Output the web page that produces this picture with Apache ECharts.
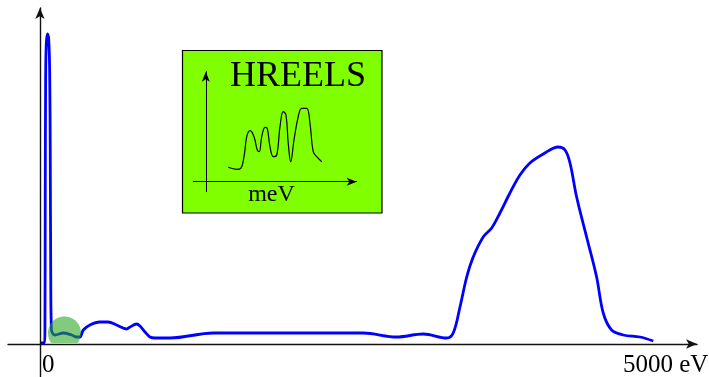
<!DOCTYPE html>
<html>
<head>
<meta charset="utf-8">
<script src="https://cdn.jsdelivr.net/npm/echarts@6/dist/echarts.min.js"></script>
<style>html,body{margin:0;padding:0;background:#fff}#c{width:709px;height:377px}</style>
</head>
<body>
<div id="c"></div>
<script>
// Main spectrum: electron energy (eV) vs intensity (a.u.)
var spectrumEnergy = [9, 39, 43, 45.6, 49, 54, 64.6, 75.7, 83.5, 88.6, 93, 99, 112, 129, 200, 273, 316, 344, 373, 430, 516, 588, 660, 746, 775, 832, 861, 904, 947, 990, 1119, 1492, 2783, 3070, 3299, 3500, 3557, 3615, 3673, 3729, 3815, 3888, 3959, 4045, 4131, 4217, 4332, 4461, 4519, 4562, 4619, 4705, 4791, 4848, 4920, 5020, 5164, 5279];
var spectrumIntensity = [1, 1, 14, 144, 264, 299, 310, 304, 274, 194, 64, 14, 10, 9, 11, 9, 7, 7, 14, 19, 22, 22, 19, 15, 17, 20, 18, 12, 7, 6, 6, 11, 11, 7, 10, 6, 11, 37, 67, 87, 107, 116, 131, 151, 169, 181, 190, 197, 194, 181, 147, 107, 67, 31, 14, 9, 7, 3];
// Highlighted low-loss region (HREELS window)
var highlightCenter = [211, 11];
// Inset HREELS spectrum: energy loss (meV) vs intensity (a.u.)
var insetEnergy = [90, 124, 140, 153, 164, 177, 193, 206, 214, 224, 237, 246, 257, 270, 284, 297, 310, 321, 330, 340, 353, 370, 384, 404, 417, 430, 444, 464];
var insetIntensity = [14.4, 12.4, 13.4, 25, 45, 51, 45, 31.7, 30, 45, 54.4, 53.4, 35, 25, 26.7, 55, 70, 66.7, 38.4, 20, 41.7, 65, 73.4, 73.4, 58.4, 30, 25, 20];
var tickValues = [0, 5000];
var tickLabels = ['0', '5000 eV'];
var insetTitle = 'HREELS';
var insetAxisName = 'meV';

var FONT = '"Liberation Serif", "Times New Roman", serif';
var chart = echarts.init(document.getElementById('c'), null, {renderer: 'canvas'});

function zip(a, b) { return a.map(function (v, i) { return [v, b[i]]; }); }

var option = {
  animation: false,
  backgroundColor: '#fff',
  title: {
    text: insetTitle, left: 230, top: 59, padding: 0, z: 6,
    textStyle: {fontFamily: FONT, fontSize: 36, fontWeight: 'normal', color: '#000'}
  },
  graphic: [{
    type: 'rect', z: 1,
    shape: {x: 182.5, y: 50.5, width: 199.5, height: 162.5},
    style: {fill: '#7fff00', stroke: '#000', lineWidth: 1.2}
  }],
  grid: [
    {left: 8, top: 8, width: 689, height: 369, outerBoundsMode: 'none'},
    {left: 193.3, top: 71.7, width: 163.4, height: 120, outerBoundsMode: 'none'}
  ],
  xAxis: [{
    gridIndex: 0, type: 'value', min: -275, max: 5655,
    axisLine: {onZero: true, symbol: ['none', 'arrow'], symbolSize: [7, 11], lineStyle: {color: '#111', width: 1.4}},
    axisTick: {show: false}, splitLine: {show: false},
    axisLabel: {
      customValues: tickValues, align: 'left', margin: -24, padding: [0, 0, 0, 2],
      fontFamily: FONT, fontSize: 25, color: '#000',
      formatter: function (v) { var i = tickValues.indexOf(v); return i >= 0 ? tickLabels[i] : ''; }
    }
  }, {
    gridIndex: 1, type: 'value', min: -50, max: 604, z: 4,
    name: insetAxisName, nameLocation: 'middle', nameGap: -9,
    nameTextStyle: {fontFamily: FONT, fontSize: 24, color: '#000', padding: [0, 7, 0, 0]},
    axisLine: {onZero: true, symbol: ['none', 'arrow'], symbolSize: [6, 10], lineStyle: {color: '#000', width: 1}},
    axisTick: {show: false}, splitLine: {show: false}, axisLabel: {show: false}
  }],
  yAxis: [{
    gridIndex: 0, type: 'value', min: -33, max: 336,
    axisLine: {show: true, onZero: true, symbol: ['none', 'arrow'], symbolSize: [7, 11], lineStyle: {color: '#111', width: 1.4}},
    axisTick: {show: false}, splitLine: {show: false}, axisLabel: {show: false}
  }, {
    gridIndex: 1, type: 'value', min: -10, max: 110, z: 4,
    axisLine: {show: true, onZero: true, symbol: ['none', 'arrow'], symbolSize: [6, 10], lineStyle: {color: '#000', width: 1}},
    axisTick: {show: false}, splitLine: {show: false}, axisLabel: {show: false}
  }],
  series: [{
    type: 'line', xAxisIndex: 0, yAxisIndex: 0, z: 3,
    data: zip(spectrumEnergy, spectrumIntensity),
    showSymbol: false, smooth: 0.35, clip: false,
    lineStyle: {color: '#0000ff', width: 2.8}
  }, {
    type: 'custom', xAxisIndex: 0, yAxisIndex: 0, z: 4,
    data: [highlightCenter],
    renderItem: function (params, api) {
      var c = api.coord([api.value(0), api.value(1)]);
      var base = api.coord([0, 1])[1];
      var r = 16.5, pts = [];
      for (var k = 0; k <= 180; k++) {
        var a = Math.PI * 2 * k / 180;
        var x = c[0] + r * Math.cos(a), y = c[1] + r * Math.sin(a);
        if (y > base) { y = base; }
        pts.push([x, y]);
      }
      return {type: 'polygon', shape: {points: pts}, style: {fill: 'rgba(40,165,30,0.58)'}};
    }
  }, {
    type: 'line', xAxisIndex: 1, yAxisIndex: 1, z: 5,
    data: zip(insetEnergy, insetIntensity),
    showSymbol: false, smooth: 0.4,
    lineStyle: {color: '#000', width: 1.2}
  }]
};
chart.setOption(option);
</script>
</body>
</html>
